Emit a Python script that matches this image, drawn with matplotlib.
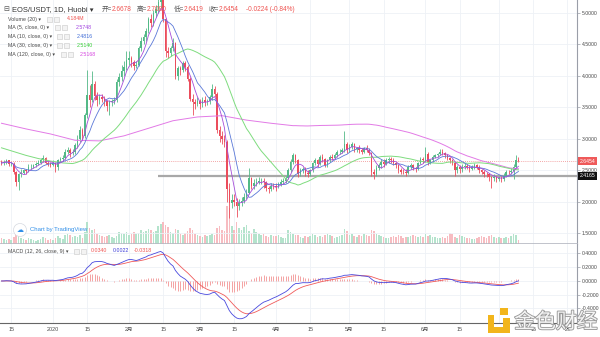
import numpy as np
import pandas as pd
import matplotlib
matplotlib.use('Agg')
import matplotlib.pyplot as plt
import matplotlib.patheffects as pe
from matplotlib.patches import Rectangle, Ellipse
from matplotlib.transforms import blended_transform_factory

plt.rcParams['font.family'] = ['Liberation Sans', 'Noto Sans CJK SC', 'DejaVu Sans']

# ---- data (daily EOS/USDT, 2019-12-11 .. 2020-07-09) ----
start = '2019-12-11'
first_open = 2.64

closes = [
    2.62, 2.63, 2.66, 2.60, 2.61, 2.47, 2.31, 2.44, 2.46, 2.50, 2.49, 2.55, 2.56, 2.58, 2.60, 2.62, 2.66, 2.70, 2.62, 2.61, 2.59,
    2.62, 2.55, 2.66, 2.68, 2.70, 2.80, 2.83, 2.78, 2.80, 2.90, 3.00, 3.14, 3.05, 3.38, 3.70, 3.62, 3.88, 3.68, 3.62, 3.66,
    3.64, 3.60, 3.52, 3.58, 3.60, 3.62, 3.90, 3.98, 4.08, 4.14, 4.25,
    4.28, 4.22, 4.16, 4.18, 4.44, 4.56, 4.62, 4.72, 4.90, 4.84, 5.00, 5.06, 5.18, 5.22, 4.90, 4.40, 4.36, 4.44, 4.52, 4.00,
    4.12, 4.10, 4.20, 4.14, 3.96, 3.64, 3.58, 3.56, 3.60,
    3.55, 3.62, 3.58, 3.60, 3.66, 3.80, 3.72, 3.15, 3.05, 3.00, 2.96, 2.20, 1.98, 2.03, 2.00, 1.93, 1.98, 2.02, 2.08, 2.14,
    2.38, 2.25, 2.30, 2.32, 2.33, 2.34, 2.32, 2.22, 2.20, 2.26, 2.25,
    2.24, 2.28, 2.32, 2.33, 2.38, 2.50, 2.64, 2.74, 2.66, 2.45, 2.50, 2.53, 2.46, 2.44, 2.50, 2.62, 2.66, 2.60, 2.72, 2.68,
    2.58, 2.66, 2.72, 2.70, 2.74, 2.79, 2.80, 2.83, 2.92, 2.83,
    2.88, 2.92, 2.84, 2.86, 2.82, 2.80, 2.85, 2.83, 2.78, 2.48, 2.45, 2.54, 2.58, 2.64, 2.60, 2.66, 2.68, 2.66, 2.62, 2.58,
    2.50, 2.48, 2.47, 2.46, 2.55, 2.58, 2.54, 2.52, 2.62, 2.68, 2.66,
    2.76, 2.63, 2.66, 2.72, 2.74, 2.76, 2.80, 2.78, 2.74, 2.70, 2.66, 2.62, 2.50, 2.55, 2.52, 2.56, 2.57, 2.55, 2.52, 2.55,
    2.58, 2.55, 2.50, 2.48, 2.45, 2.44, 2.40, 2.38, 2.40, 2.37,
    2.38, 2.36, 2.42, 2.48, 2.47, 2.49, 2.56, 2.6678, 2.6454,
]
highs = [
    2.67, 2.66, 2.69, 2.67, 2.64, 2.63, 2.49, 2.46, 2.52, 2.53, 2.53, 2.60, 2.60, 2.61, 2.63, 2.66, 2.70, 2.74, 2.71, 2.65, 2.64,
    2.66, 2.64, 2.69, 2.72, 2.74, 2.84, 2.88, 2.86, 2.84, 2.94, 3.06, 3.20, 3.18, 3.42, 4.10, 3.86, 4.08, 3.92, 3.74, 3.72,
    3.72, 3.68, 3.62, 3.62, 3.64, 3.66, 3.96, 4.05, 4.18, 4.24, 4.40,
    4.40, 4.32, 4.26, 4.24, 4.48, 4.62, 4.66, 4.76, 4.94, 4.98, 5.04, 5.12, 5.45, 5.40, 5.24, 4.92, 4.46, 4.48, 4.60, 4.54,
    4.16, 4.16, 4.24, 4.24, 4.18, 3.98, 3.72, 3.64, 3.66,
    3.64, 3.66, 3.68, 3.64, 3.70, 3.88, 3.84, 3.74, 3.20, 3.12, 3.06, 2.98, 2.30, 2.12, 2.12, 2.06, 2.04, 2.08, 2.14, 2.20,
    2.54, 2.40, 2.36, 2.38, 2.40, 2.38, 2.38, 2.34, 2.26, 2.30, 2.30,
    2.30, 2.32, 2.36, 2.38, 2.42, 2.54, 2.68, 2.78, 2.76, 2.68, 2.54, 2.56, 2.55, 2.50, 2.52, 2.64, 2.70, 2.68, 2.75, 2.76,
    2.70, 2.68, 2.75, 2.76, 2.78, 2.82, 2.84, 2.86, 3.12, 2.96,
    2.92, 2.96, 2.94, 2.88, 2.90, 2.86, 2.88, 2.90, 2.86, 2.80, 2.52, 2.58, 2.62, 2.68, 2.68, 2.70, 2.72, 2.72, 2.70, 2.64,
    2.60, 2.54, 2.52, 2.52, 2.58, 2.62, 2.60, 2.56, 2.64, 2.72, 2.72,
    2.88, 2.80, 2.68, 2.74, 2.76, 2.78, 2.84, 2.84, 2.80, 2.76, 2.72, 2.68, 2.64, 2.58, 2.58, 2.60, 2.62, 2.60, 2.58, 2.58,
    2.62, 2.60, 2.58, 2.52, 2.50, 2.48, 2.46, 2.42, 2.44, 2.42,
    2.42, 2.42, 2.46, 2.50, 2.50, 2.54, 2.60, 2.74, 2.7080,
]
lows = [
    2.58, 2.59, 2.61, 2.57, 2.57, 2.44, 2.26, 2.19, 2.40, 2.44, 2.45, 2.47, 2.52, 2.54, 2.55, 2.58, 2.60, 2.64, 2.60, 2.57, 2.55,
    2.57, 2.47, 2.50, 2.63, 2.65, 2.68, 2.76, 2.72, 2.74, 2.76, 2.86, 2.96, 2.98, 3.02, 3.34, 3.50, 3.58, 3.62, 3.52, 3.56,
    3.58, 3.52, 3.44, 3.38, 3.52, 3.55, 3.58, 3.84, 3.92, 4.00, 4.10,
    4.18, 4.14, 4.10, 4.12, 4.16, 4.40, 4.50, 4.56, 4.68, 4.78, 4.80, 4.94, 5.00, 5.08, 4.86, 4.30, 4.28, 4.32, 4.40, 3.96,
    3.94, 4.02, 4.06, 4.08, 3.92, 3.60, 3.38, 3.48, 3.52,
    3.48, 3.50, 3.52, 3.54, 3.56, 3.62, 3.66, 3.10, 2.96, 2.92, 2.88, 2.00, 1.74, 1.90, 1.94, 1.76, 1.88, 1.94, 1.98, 2.04,
    2.12, 2.20, 2.20, 2.26, 2.28, 2.28, 2.22, 2.18, 2.14, 2.18, 2.20,
    2.18, 2.22, 2.26, 2.28, 2.30, 2.36, 2.48, 2.60, 2.62, 2.40, 2.42, 2.46, 2.42, 2.40, 2.42, 2.48, 2.58, 2.56, 2.58, 2.64,
    2.55, 2.56, 2.64, 2.66, 2.68, 2.72, 2.76, 2.78, 2.80, 2.78,
    2.80, 2.84, 2.80, 2.80, 2.78, 2.76, 2.78, 2.80, 2.74, 2.42, 2.36, 2.42, 2.50, 2.54, 2.56, 2.58, 2.62, 2.62, 2.58, 2.54,
    2.46, 2.44, 2.44, 2.42, 2.44, 2.52, 2.50, 2.48, 2.50, 2.60, 2.62,
    2.64, 2.58, 2.60, 2.64, 2.70, 2.72, 2.74, 2.74, 2.70, 2.66, 2.62, 2.58, 2.42, 2.46, 2.46, 2.48, 2.52, 2.52, 2.48, 2.50,
    2.52, 2.52, 2.46, 2.44, 2.40, 2.40, 2.34, 2.22, 2.34, 2.32,
    2.34, 2.32, 2.34, 2.40, 2.44, 2.44, 2.36, 2.54, 2.6419,
]
volumes = [  # millions
    6, 5, 4, 5, 4, 7, 10, 9, 6, 5, 4, 6, 5, 4, 3, 4, 5, 7, 6, 4, 5,
    4, 6, 8, 6, 5, 9, 10, 9, 7, 8, 7, 9, 6, 12, 22, 16, 14, 15, 10, 9, 8, 7, 8, 9, 7, 6, 8, 12, 11, 10, 12,
    9, 10, 12, 10, 11, 14, 12, 13, 15, 14, 12, 13, 18, 20, 22, 19, 17, 12, 11, 15, 14, 10, 9, 11, 13, 16, 14, 10, 9,
    8, 7, 9, 8, 9, 10, 9, 16, 18, 14, 13, 38, 36, 18, 14, 22, 16, 14, 17, 19, 13, 11, 15, 12, 10, 9, 10, 8, 7, 9, 8,
    8, 9, 7, 6, 6, 14, 12, 10, 9, 9, 7, 6, 8, 7, 8, 10, 9, 7, 8, 7, 9, 10, 9, 8, 6, 7, 8, 9, 15, 13,
    9, 10, 8, 7, 9, 8, 10, 9, 8, 14, 13, 10, 9, 8, 7, 6, 6, 7, 8, 7, 9, 8, 6, 7, 7, 8, 9, 8, 7, 8, 7,
    10, 8, 9, 7, 7, 6, 6, 7, 6, 8, 11, 10, 7, 6, 9, 8, 7, 6, 6, 5, 5, 6, 7, 8, 7, 6, 8, 9, 7, 6,
    7, 6, 6, 7, 6, 8, 10, 9, 4.184,
]

ma30_head_idx = [0, 5, 10, 15, 20, 25]
ma30_head = [2.86, 2.80, 2.74, 2.69, 2.65, 2.62]
ma120_head_idx = [0, 10, 20, 30, 40, 50, 60, 70, 80, 90, 100, 110]
ma120_head = [3.25, 3.16, 3.08, 2.98, 2.97, 3.05, 3.17, 3.29, 3.35, 3.37, 3.30, 3.25]

price_ticks = [1.5, 2.0, 2.5, 3.0, 3.5, 4.0, 4.5, 5.0]
macd_ticks = [-0.4, -0.2, 0.0, 0.2, 0.4]
xtick_dates = ['2019-12-15', '2020-01-01', '2020-01-15', '2020-02-01', '2020-02-15', '2020-03-01',
               '2020-03-15', '2020-04-01', '2020-04-15', '2020-05-01', '2020-05-15', '2020-06-01',
               '2020-06-15', '2020-07-01', '2020-07-15', '2020-07-29']
xtick_labels = ['15', '2020', '15', '2月', '15', '3月', '15', '4月', '15', '5月', '15', '6月',
                '15', '7月', '15', '29']

last_close = 2.6454
level_price = 2.4165
level_start = '2020-02-13'

# ---- derived series ----
n = len(closes)
dates = pd.date_range(start, periods=n, freq='D')
x = np.arange(n)
c = np.array(closes)
hi = np.array(highs)
lo = np.array(lows)
o = np.r_[first_open, c[:-1]]
vol = np.array(volumes)


def day(d):
    return (pd.Timestamp(d) - dates[0]).days


cs = pd.Series(c)
ma5 = cs.rolling(5, min_periods=1).mean()
ma10 = cs.rolling(10, min_periods=1).mean()
ma30 = cs.rolling(30).mean()
ma120 = cs.rolling(120).mean()
ma30_x = np.r_[ma30_head_idx, x[29:]]
ma30_y = np.r_[ma30_head, ma30.values[29:]]
ma120_x = np.r_[ma120_head_idx, x[119:]]
ma120_y = np.r_[ma120_head, ma120.values[119:]]

ema12 = cs.ewm(span=12, adjust=False).mean()
ema26 = cs.ewm(span=26, adjust=False).mean()
macd = ema12 - ema26
signal = macd.ewm(span=9, adjust=False).mean()
hist = macd - signal

# ---- colours ----
UP, DN = '#53b987', '#eb4d5c'
VUP, VDN = '#b4e3cc', '#f7bcc1'
GRID = '#eef1f6'
C_MA5, C_MA10, C_MA30, C_MA120 = '#a64dd9', '#5a78d8', '#7edc7e', '#e27ae6'
C_MACD, C_SIG, C_HIST = '#4848de', '#f05a5a', '#f4a3a3'
AXC = '#9a9ea8'
TXT = '#4a4a4a'

W, H = 600, 337
fig = plt.figure(figsize=(W / 100, H / 100), dpi=100)


def rect(x0, y0, x1, y1):
    return [x0 / W, 1 - y1 / H, (x1 - x0) / W, (y1 - y0) / H]


axv = fig.add_axes(rect(0, 0, 577, 244))
ax = fig.add_axes(rect(0, 0, 577, 244), sharex=axv)
axm = fig.add_axes(rect(0, 244, 577, 323), sharex=axv)
ax.patch.set_alpha(0)

xmin, xmax = -0.61, 234.9
axv.set_xlim(xmin, xmax)
tick_pos = [day(d) for d in xtick_dates]

# volume (background)
up = c >= o
vcol = np.where(up, VUP, VDN)
axv.set_ylim(0, 244)
for t in tick_pos:
    axv.axvline(t, color=GRID, lw=0.6, zorder=0)
axv.bar(x, vol, width=0.65, color=vcol, lw=0, zorder=1)
axv.axis('off')

# price pane
ax.set_ylim(1.3333, 5.2063)
for p in price_ticks:
    ax.axhline(p, color=GRID, lw=0.6, zorder=0)
ax.hlines(level_price, day(level_start), xmax, color='#a8a8a8', lw=1.6, zorder=2)
ax.axhline(last_close, color='#f08a8a', lw=0.6, ls=(0, (1, 1.5)), zorder=2)

ccol = np.where(up, UP, DN)
ax.vlines(x, lo, hi, colors=ccol, lw=0.6, zorder=3)
ax.bar(x, np.maximum(np.abs(c - o), 0.008), bottom=np.minimum(o, c), width=0.62,
       color=ccol, lw=0, zorder=4)

ax.plot(ma120_x, ma120_y, color=C_MA120, lw=0.7, zorder=5)
ax.plot(ma30_x, ma30_y, color=C_MA30, lw=0.7, zorder=5)
ax.plot(x, ma10, color=C_MA10, lw=0.6, zorder=5)
ax.plot(x, ma5, color=C_MA5, lw=0.6, zorder=5)

ax.set_yticks(price_ticks)
ax.set_yticklabels([f'{p:.4f}' for p in price_ticks])
ax.yaxis.tick_right()
ax.tick_params(axis='y', length=2, width=0.5, color=AXC, labelcolor=TXT, labelsize=3.7, pad=1.5)
ax.tick_params(axis='x', bottom=False, labelbottom=False)
for s in ['top', 'left']:
    ax.spines[s].set_visible(False)
ax.spines['right'].set_color(AXC)
ax.spines['right'].set_linewidth(0.8)
ax.spines['bottom'].set_color('#b6b9c2')
ax.spines['bottom'].set_linewidth(1.2)

bt = blended_transform_factory(ax.transAxes, ax.transData)
ax.text(1.004, last_close, '2.6454', transform=bt, fontsize=3.7, color='white', va='center',
        ha='left', zorder=10, clip_on=False,
        bbox=dict(boxstyle='square,pad=0.3', fc='#ef5a5a', ec='none'))
ax.text(1.004, level_price, '2.4165', transform=bt, fontsize=3.7, color='white', va='center',
        ha='left', zorder=10, clip_on=False,
        bbox=dict(boxstyle='square,pad=0.3', fc='#111111', ec='none'))

# MACD pane
axm.set_ylim(-0.611, 0.538)
for t in tick_pos:
    axm.axvline(t, color=GRID, lw=0.6, zorder=0)
for p in macd_ticks:
    axm.axhline(p, color=GRID, lw=0.6, zorder=0)
axm.vlines(x, 0, hist, colors=C_HIST, lw=0.7, zorder=2)
axm.plot(x, signal, color=C_SIG, lw=0.6, zorder=3)
axm.plot(x, macd, color=C_MACD, lw=0.6, zorder=3)
axm.set_yticks(macd_ticks)
axm.set_yticklabels([f'{p:.4f}' for p in macd_ticks])
axm.yaxis.tick_right()
axm.tick_params(axis='y', length=2, width=0.5, color=AXC, labelcolor=TXT, labelsize=3.7, pad=1.5)
axm.set_xticks(tick_pos)
axm.set_xticklabels(xtick_labels)
axm.tick_params(axis='x', length=0, labelsize=3.9, labelcolor=TXT, pad=3)
for s in ['top', 'left']:
    axm.spines[s].set_visible(False)
axm.spines['right'].set_color(AXC)
axm.spines['right'].set_linewidth(0.8)
axm.spines['bottom'].set_color('#666666')
axm.spines['bottom'].set_linewidth(0.8)
axm.set_xlim(xmin, xmax)


# ---- header / legend texts ----
def ftxt(px, py, s, **kw):
    kw.setdefault('va', 'center')
    kw.setdefault('ha', 'left')
    fig.text(px / W, 1 - py / H, s, **kw)


def icons(px, py):
    for k in range(2):
        fig.add_artist(Rectangle(((px + k * 7) / W, 1 - (py + 2.5) / H), 5 / W, 5 / H,
                                 transform=fig.transFigure, fc='#f3f3f3', ec='#c9c9c9', lw=0.4))


RED = '#ef5350'
ftxt(3, 9.5, '⊟', fontsize=5, color='#555555')
ftxt(12, 9.5, 'EOS/USDT, 1D, Huobi ▾', fontsize=5.4, color='#333333')
ftxt(102, 9.5, '开=', fontsize=4.7, color='#555555')
ftxt(112, 9.5, '2.6678', fontsize=4.7, color=RED)
ftxt(137, 9.5, '高=', fontsize=4.7, color='#555555')
ftxt(147, 9.5, '2.7080', fontsize=4.7, color=RED)
ftxt(174, 9.5, '低=', fontsize=4.7, color='#555555')
ftxt(184, 9.5, '2.6419', fontsize=4.7, color=RED)
ftxt(209, 9.5, '收=', fontsize=4.7, color='#555555')
ftxt(219, 9.5, '2.6454', fontsize=4.7, color=RED)
ftxt(246, 9.5, '-0.0224 (-0.84%)', fontsize=4.7, color=RED)

legend_rows = [
    (19, 'Volume (20) ▾', 47, 67, '4.184M', RED),
    (27.7, 'MA (5, close, 0) ▾', 55, 76, '2.5748', '#a040e0'),
    (36.7, 'MA (10, close, 0) ▾', 57, 77, '2.4816', '#3e6bd6'),
    (45.7, 'MA (30, close, 0) ▾', 57, 77, '2.5140', '#33cc33'),
    (54.5, 'MA (120, close, 0) ▾', 61, 80, '2.5168', '#d645e0'),
]
for py, label, ix, vx, val, vc in legend_rows:
    ftxt(8, py, label, fontsize=3.8, color=TXT)
    icons(ix, py)
    ftxt(vx, py, val, fontsize=3.8, color=vc)

ftxt(8, 251, 'MACD (12, 26, close, 9) ▾', fontsize=3.8, color=TXT)
icons(74, 251)
ftxt(91, 251, '0.0340', fontsize=3.8, color=RED)
ftxt(113, 251, '0.0022', fontsize=3.8, color='#3c3cd8')
ftxt(134, 251, '-0.0318', fontsize=3.8, color=RED)

# TradingView badge
fig.add_artist(Ellipse((20 / W, 1 - 230 / H), 13 / W, 13 / H, transform=fig.transFigure,
                       fc='white', ec='#d5d9e0', lw=0.5))
ftxt(20, 230.5, '☁', fontsize=5, color='#2f8ee8', ha='center', family='DejaVu Sans')
ftxt(30, 230, 'Chart by TradingView', fontsize=4.3, color='#2f8ee8')

# watermark
YEL = '#f2b51b'
for (x0, y0, x1, y1) in [(488, 315, 494, 333), (488, 327, 510, 333), (503, 318, 510, 333), (500, 308, 508, 315)]:
    fig.add_artist(Rectangle((x0 / W, 1 - y1 / H), (x1 - x0) / W, (y1 - y0) / H,
                             transform=fig.transFigure, fc=YEL, ec='none'))
fig.text(556 / W, 1 - 322 / H, '金色财经', fontsize=15, color='#f4f4f4', ha='center', va='center',
         family=['Noto Sans CJK SC'],
         path_effects=[pe.withStroke(linewidth=1.3, foreground='#9a9a9a')])

fig.savefig('out.png', dpi=100)
